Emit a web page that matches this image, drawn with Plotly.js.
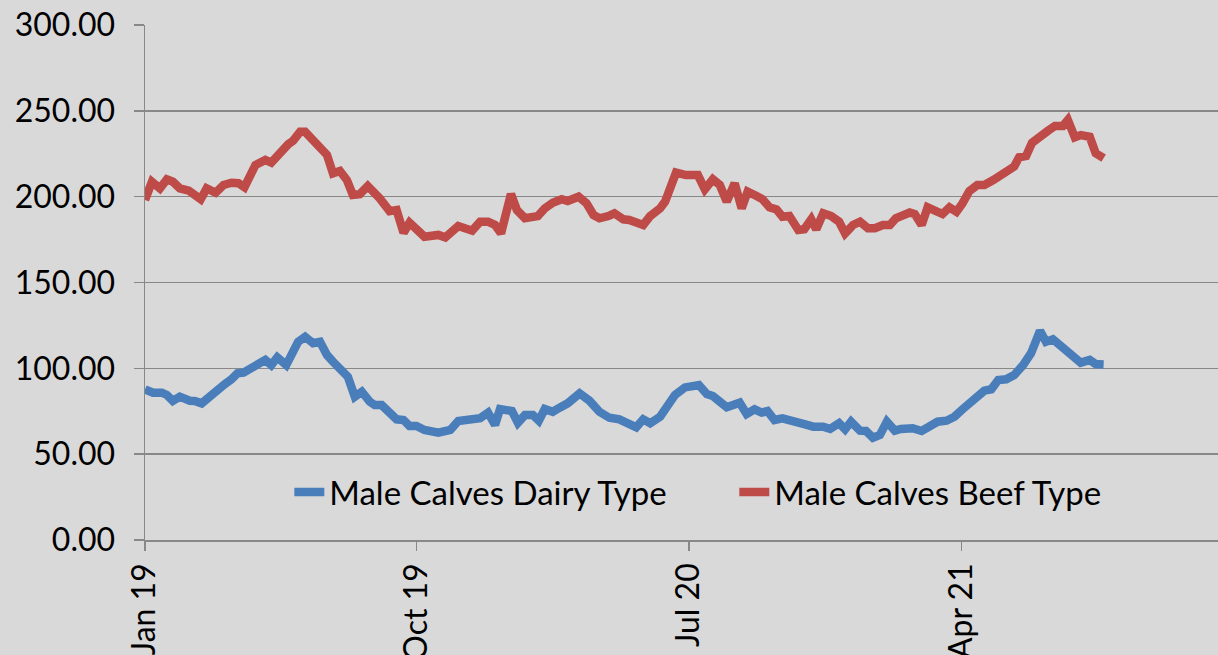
<!DOCTYPE html>
<html>
<head>
<meta charset="utf-8">
<script src="https://cdn.plot.ly/plotly-3.0.1.min.js"></script>
<style>
html,body{margin:0;padding:0;background:#d9d9d9;}
#chart{width:1218px;height:655px;}
</style>
</head>
<body>
<div id="chart"></div>
<script>
// ---- Data ----
var seriesNames = ["Male Calves Dairy Type", "Male Calves Beef Type"];

var dairyDates = [
"2019-01-01","2019-01-09","2019-01-18","2019-01-23","2019-01-29","2019-02-05","2019-02-15","2019-02-20","2019-02-27","2019-03-06",
"2019-03-14","2019-03-22","2019-03-29","2019-04-04","2019-04-10","2019-04-17","2019-04-23","2019-05-02","2019-05-08","2019-05-14",
"2019-05-23","2019-05-28","2019-06-04","2019-06-11","2019-06-19","2019-06-26","2019-07-03","2019-07-09","2019-07-16","2019-07-24",
"2019-07-31","2019-08-07","2019-08-15","2019-08-20","2019-08-27","2019-09-04","2019-09-11","2019-09-18","2019-09-24","2019-10-01",
"2019-10-09","2019-10-23","2019-11-04","2019-11-12","2019-11-19","2019-11-29","2019-12-04","2019-12-12","2019-12-19","2019-12-24",
"2020-01-05","2020-01-11","2020-01-18","2020-01-26","2020-02-01","2020-02-07","2020-02-15","2020-02-22","2020-03-01","2020-03-13",
"2020-03-23","2020-04-02","2020-04-12","2020-04-22","2020-05-02","2020-05-09","2020-05-16","2020-05-23","2020-06-02","2020-06-08",
"2020-06-17","2020-06-27","2020-07-03","2020-07-11","2020-07-19","2020-07-25","2020-08-01","2020-08-08","2020-08-21","2020-08-28",
"2020-09-05","2020-09-12","2020-09-18","2020-09-25","2020-10-03","2020-10-12","2020-10-17","2020-10-24","2020-11-03","2020-11-13",
"2020-11-20","2020-11-29","2020-12-05","2020-12-11","2020-12-20","2020-12-26","2021-01-02","2021-01-09","2021-01-16","2021-01-24",
"2021-01-30","2021-02-11","2021-02-20","2021-02-28","2021-03-08","2021-03-17","2021-03-25","2021-04-02","2021-04-11","2021-04-17",
"2021-04-24","2021-05-01","2021-05-08","2021-05-16","2021-05-24","2021-06-02","2021-06-10","2021-06-19","2021-06-25","2021-07-02",
"2021-07-10","2021-07-19","2021-07-30","2021-08-08","2021-08-14","2021-08-22"
];
var dairyValues = [
87.8,85.8,85.8,84.5,81.0,83.5,81.1,81.0,79.6,83.5,
86.4,90.7,93.6,97.1,97.5,100.0,101.8,104.9,101.9,106.4,
101.9,107.8,115.5,118.4,114.6,115.5,107.8,103.9,99.0,95.1,
83.5,86.4,80.6,78.6,78.6,73.8,70.3,69.9,66.4,66.4,
64.1,62.5,64.1,69.3,69.5,70.9,70.9,74.2,67.0,76.3,
75.1,68.3,72.8,72.8,69.5,76.3,74.7,77.1,79.6,85.4,
81.1,74.7,71.2,70.3,67.0,65.6,70.3,68.0,71.8,77.7,
84.5,88.9,89.3,90.3,85.0,83.9,80.6,77.3,80.0,73.4,
76.1,74.2,75.1,69.9,70.9,69.9,69.5,67.6,66.0,66.0,
64.7,68.0,64.5,68.9,63.7,63.5,59.6,61.2,68.9,63.7,
64.7,65.1,63.5,66.4,68.9,69.5,71.8,76.1,80.6,83.1,
87.0,87.8,93.2,93.6,96.1,101.9,108.8,121.9,115.5,116.9,
112.6,108.3,103.3,104.9,102.5,102.3
];

var beefDates = [
"2019-01-01","2019-01-08","2019-01-16","2019-01-23","2019-01-29","2019-02-05","2019-02-14","2019-02-26","2019-03-04","2019-03-13",
"2019-03-21","2019-03-29","2019-04-05","2019-04-11","2019-04-22","2019-05-02","2019-05-08","2019-05-17","2019-05-25","2019-05-30",
"2019-06-06","2019-06-11","2019-06-23","2019-07-03","2019-07-09","2019-07-16","2019-07-23","2019-07-29","2019-08-05","2019-08-13",
"2019-08-25","2019-09-04","2019-09-11","2019-09-18","2019-09-24","2019-10-09","2019-10-23","2019-10-30","2019-11-12","2019-11-19",
"2019-11-26","2019-12-04","2019-12-12","2019-12-19","2019-12-25","2020-01-04","2020-01-10","2020-01-18","2020-01-25","2020-01-31",
"2020-02-07","2020-02-15","2020-02-24","2020-03-01","2020-03-12","2020-03-20","2020-03-27","2020-04-02","2020-04-11","2020-04-17",
"2020-04-26","2020-05-02","2020-05-16","2020-05-23","2020-06-02","2020-06-07","2020-06-18","2020-06-28","2020-07-10","2020-07-17",
"2020-07-25","2020-08-01","2020-08-08","2020-08-16","2020-08-23","2020-08-29","2020-09-07","2020-09-13","2020-09-20","2020-09-27",
"2020-10-03","2020-10-10","2020-10-19","2020-10-25","2020-11-01","2020-11-06","2020-11-13","2020-11-21","2020-11-29","2020-12-05",
"2020-12-13","2020-12-20","2020-12-28","2021-01-04","2021-01-12","2021-01-19","2021-01-25","2021-01-30","2021-02-08","2021-02-13",
"2021-02-20","2021-02-26","2021-03-05","2021-03-13","2021-03-20","2021-03-27","2021-04-02","2021-04-09","2021-04-17","2021-04-24",
"2021-05-03","2021-05-09","2021-05-18","2021-05-24","2021-05-29","2021-06-05","2021-06-11","2021-06-18","2021-06-27","2021-07-04",
"2021-07-12","2021-07-17","2021-07-24","2021-07-30","2021-08-08","2021-08-14","2021-08-22"
];
var beefValues = [
198.1,208.7,204.8,210.1,208.7,204.8,203.5,198.5,204.8,202.3,
206.8,208.1,207.8,205.5,218.4,221.4,219.8,226.2,230.5,232.6,
237.8,237.8,230.1,224.3,213.6,215.0,209.7,201.0,201.4,206.2,
199.0,191.6,192.2,179.0,184.8,176.7,177.7,176.3,182.9,181.0,
180.2,185.4,185.4,183.5,178.6,201.5,192.2,187.4,188.3,188.7,
193.2,196.5,198.5,197.5,200.0,196.1,189.3,187.4,188.7,190.3,
186.8,186.4,183.5,188.7,193.2,197.1,214.0,212.6,212.6,204.3,
210.1,206.8,197.1,207.8,193.2,202.9,200.4,198.5,193.8,192.6,
188.3,188.7,180.6,181.0,186.8,181.0,190.3,188.7,185.4,178.6,
183.5,185.4,181.6,181.6,183.5,183.5,187.4,188.3,190.8,189.9,
183.5,193.8,191.9,189.9,193.8,191.2,196.1,203.3,206.8,206.8,
209.7,211.6,214.5,217.5,222.9,223.7,231.4,234.9,238.4,241.2,
241.2,244.7,234.6,235.9,234.9,225.3,222.4
];

var xTickVals = ["2019-01-01","2019-10-01","2020-07-01","2021-04-01"];
var xTickText = ["Jan 19","Oct 19","Jul 20","Apr 21"];

// ---- Chart ----
var FONT = "Lato, 'Open Sans', sans-serif";
var axisGrey = "#888888";

var traces = [
  {x: dairyDates, y: dairyValues, name: seriesNames[0], type: "scatter", mode: "lines",
   line: {color: "#4a7ebb", width: 8.5}},
  {x: beefDates, y: beefValues, name: seriesNames[1], type: "scatter", mode: "lines",
   line: {color: "#be4b48", width: 8.5}}
];

var layout = {
  width: 1218, height: 655,
  paper_bgcolor: "#d9d9d9", plot_bgcolor: "#d9d9d9",
  margin: {l: 145, r: 0, t: 25, b: 115},
  font: {family: FONT, size: 32, color: "#000000"},
  showlegend: true,
  legend: {orientation: "h", x: 0.1345, xanchor: "left", y: 0.093, yanchor: "middle",
           bgcolor: "rgba(0,0,0,0)", font: {family: FONT, size: 33, color: "#000"},
           entrywidth: 400, traceorder: "normal"},
  xaxis: {
    type: "date", range: ["2019-01-01", "2021-12-15"],
    tickmode: "array", tickvals: xTickVals, ticktext: xTickText,
    tickangle: -90, ticks: "outside", ticklen: 9, tickwidth: 1.5, tickcolor: axisGrey,
    showgrid: false, zeroline: false, showline: true, linecolor: axisGrey, linewidth: 1.5,
    tickfont: {family: FONT, size: 32, color: "#000"}, fixedrange: true
  },
  yaxis: {
    range: [0, 300], dtick: 50, tick0: 0, tickformat: ".2f",
    ticks: "outside", ticklen: 10, tickwidth: 1.5, tickcolor: axisGrey,
    showgrid: true, gridcolor: axisGrey, gridwidth: 1.5,
    zeroline: false, showline: true, linecolor: axisGrey, linewidth: 1.5,
    ticklabelstandoff: 12,
    tickfont: {family: FONT, size: 32, color: "#000"}, fixedrange: true
  }
};

Plotly.newPlot("chart", traces, layout, {displayModeBar: false, staticPlot: true});
</script>
</body>
</html>
